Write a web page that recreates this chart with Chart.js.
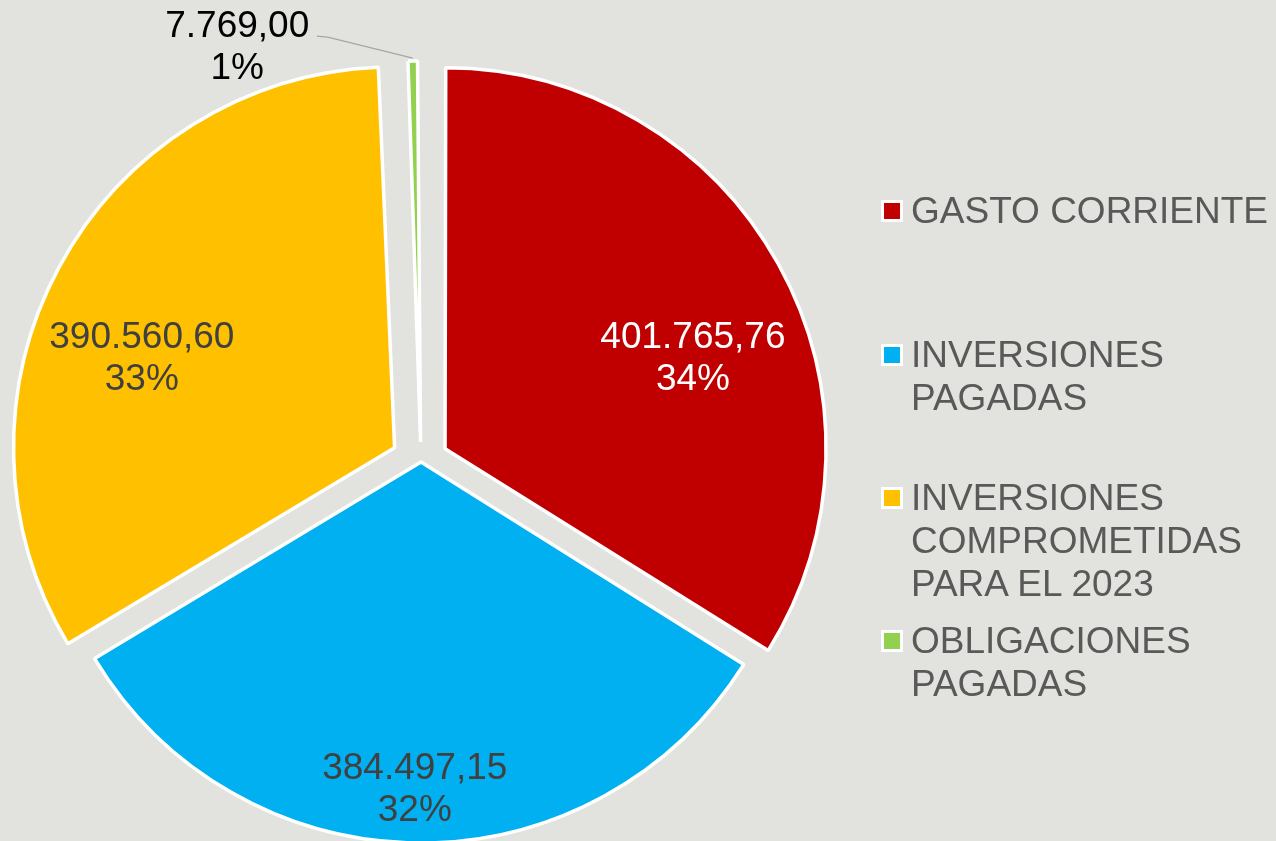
<!DOCTYPE html>
<html>
<head>
<meta charset="utf-8">
<script src="https://cdn.jsdelivr.net/npm/chart.js@4.4.1/dist/chart.umd.min.js"></script>
<style>
  html, body { margin: 0; padding: 0; background: #e2e3df; }
  #wrap { position: relative; width: 1276px; height: 841px; overflow: hidden; }
  #pie { position: absolute; left: 0; top: 0; }
  .leg-item {
    position: absolute; left: 881px;
    font-family: "Liberation Sans", Arial, sans-serif;
    font-size: 37px; line-height: 43px; color: #595959;
  }
  .leg-box { position: absolute; left: 0; width: 16px; height: 16px; border: 3px solid #fff; }
  .leg-text { position: absolute; left: 30px; top: 0; white-space: nowrap; }
</style>
</head>
<body>
<div id="wrap">
  <canvas id="pie" width="1276" height="841"></canvas>
  <div id="legend"></div>
</div>
<script>
// datos del gráfico
const categories = [
  ['GASTO CORRIENTE'],
  ['INVERSIONES', 'PAGADAS'],
  ['INVERSIONES', 'COMPROMETIDAS', 'PARA EL 2023'],
  ['OBLIGACIONES', 'PAGADAS']
];
const values = [401765.76, 384497.15, 390560.60, 7769.00];
const sliceColors = ['#c00000', '#00b0f0', '#ffc000', '#92d050'];
const labelColors = ['#ffffff', '#404040', '#404040', '#000000'];

// presentación
const explode = [110, 0, 120, 80];          // offset de Chart.js (desplazamiento real = offset / 4)
const labelPolar = [[69.4, 0.695], [181.1, 0.853], [290, 0.706], null]; // [grados desde arriba, fracción del radio]
const legendCapY = [209.7, 353.7, 497, 640];
const FONT = '37px "Liberation Sans", Arial, sans-serif';

function fmtNum(v) {
  const [ent, dec] = v.toFixed(2).split('.');
  return ent.replace(/\B(?=(\d{3})+(?!\d))/g, '.') + ',' + dec;
}

// Chart.js agranda el radio de las porciones desplazadas; lo devolvemos al radio común
const fixRadius = {
  id: 'fixRadius',
  beforeDatasetsDraw(chart) {
    const meta = chart.getDatasetMeta(0);
    const R = meta.controller.outerRadius;
    meta.data.forEach(arc => {
      const shift = (arc.options.offset || 0) / 4;
      const fix = 1 - Math.sin(Math.min(Math.PI, arc.circumference));
      arc.outerRadius = R - shift * fix;
    });
  }
};

const sliceLabels = {
  id: 'sliceLabels',
  afterDatasetsDraw(chart) {
    const meta = chart.getDatasetMeta(0);
    const R = meta.controller.outerRadius;
    const total = values.reduce((a, b) => a + b, 0);
    const ctx = chart.ctx;
    ctx.save();
    ctx.font = FONT;
    ctx.textAlign = 'center';
    ctx.textBaseline = 'alphabetic';
    meta.data.forEach((arc, i) => {
      const mid = (arc.startAngle + arc.endAngle) / 2;
      const shift = (arc.options.offset || 0) / 4;
      const cx = arc.x + Math.cos(mid) * shift;
      const cy = arc.y + Math.sin(mid) * shift;
      const lines = [fmtNum(values[i]), Math.round(values[i] / total * 100) + '%'];
      let x, y;
      if (labelPolar[i]) {
        const a = labelPolar[i][0] * Math.PI / 180;
        const d = labelPolar[i][1] * R;
        x = cx + Math.sin(a) * d;
        y = cy - Math.cos(a) * d;
      } else {
        // etiqueta exterior con línea guía
        const ex = cx + Math.cos(mid) * R;
        const ey = cy + Math.sin(mid) * R;
        x = ex - 175.5;
        y = ey - 16.5;
        ctx.strokeStyle = '#a6a6a6';
        ctx.lineWidth = 1.3;
        ctx.beginPath();
        ctx.moveTo(x + 79.5, y - 8.5);
        ctx.lineTo(x + 90.5, y - 7.5);
        ctx.lineTo(ex, ey - 3);
        ctx.stroke();
      }
      ctx.fillStyle = labelColors[i];
      ctx.fillText(lines[0], x, y - 21.25 + 13.25);
      ctx.fillText(lines[1], x, y + 21.25 + 13.25);
    });
    ctx.restore();
  }
};

new Chart(document.getElementById('pie'), {
  type: 'pie',
  data: {
    labels: categories,
    datasets: [{
      data: values,
      backgroundColor: sliceColors,
      borderColor: '#ffffff',
      borderWidth: 3.5,
      offset: explode,
      hoverOffset: 0,
      radius: 381,
      clip: false
    }]
  },
  options: {
    responsive: false,
    animation: false,
    events: [],
    layout: { padding: { left: 0, right: 434, top: 83, bottom: 0 } },
    plugins: { legend: { display: false }, tooltip: { enabled: false } }
  },
  plugins: [fixRadius, sliceLabels]
});

// leyenda
const legendEl = document.getElementById('legend');
categories.forEach((lines, i) => {
  const item = document.createElement('div');
  item.className = 'leg-item';
  item.style.top = (legendCapY[i] - 21.1) + 'px';
  const box = document.createElement('div');
  box.className = 'leg-box';
  box.style.background = sliceColors[i];
  box.style.top = '11.4px';
  const txt = document.createElement('div');
  txt.className = 'leg-text';
  txt.innerHTML = lines.join('<br>');
  item.appendChild(box);
  item.appendChild(txt);
  legendEl.appendChild(item);
});
</script>
</body>
</html>
